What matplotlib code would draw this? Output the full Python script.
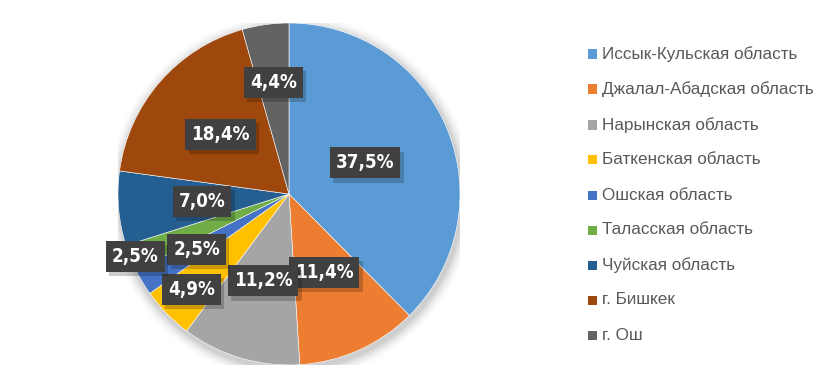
import matplotlib.pyplot as plt
import numpy as np

regions = ['Иссык-Кульская область', 'Джалал-Абадская область', 'Нарынская область',
           'Баткенская область', 'Ошская область', 'Таласская область',
           'Чуйская область', 'г. Бишкек', 'г. Ош']
shares = [37.5, 11.4, 11.2, 4.9, 2.5, 2.5, 7.0, 18.4, 4.4]
labels = ['37,5%', '11,4%', '11,2%', '4,9%', '2,5%', '2,5%', '7,0%', '18,4%', '4,4%']
colors = ['#5B9BD5', '#ED7D31', '#A5A5A5', '#FFC000', '#4472C4',
          '#70AD47', '#255E91', '#9E480E', '#636363']
# how far from the centre each label box sits (fraction of radius)
label_dist = [0.48, 0.50, 0.53, 0.80, 0.63, 0.97, 0.51, 0.53, 0.66]

fig = plt.figure(figsize=(8.33, 3.9), dpi=100)
W, H = 833, 390
cx, cy, r = 289, 196, 171
ax = fig.add_axes([(cx - r) / W, (cy - r) / H, 2 * r / W, 2 * r / H])

# soft shadow around the pie
for i, a in enumerate(np.linspace(0.05, 0.01, 6)):
    ax.add_patch(plt.Circle((0.01, -0.02), 1 + 0.012 * (i + 1), color='k', alpha=a, lw=0, zorder=0))

wedges, _ = ax.pie(shares, colors=colors, startangle=90, counterclock=False,
                   wedgeprops=dict(edgecolor='white', linewidth=0.4))

total = sum(shares)
cum = 0
z = 4
for val, lab, d in zip(shares, labels, label_dist):
    mid = 90 - (cum + val / 2) / total * 360
    cum += val
    x, y = d * np.cos(np.radians(mid)), d * np.sin(np.radians(mid))
    # shadow of the box
    ax.text(x + 0.02, y - 0.025, lab, ha='center', va='center', color='#404040',
            alpha=0.0, fontsize=13.5, fontweight='bold', family='DejaVu Sans',
            fontstretch='condensed', zorder=z,
            bbox=dict(boxstyle='square,pad=0.32', fc='#000000', ec='none', alpha=0.2))
    ax.text(x, y, lab, ha='center', va='center', color='white', fontsize=13.5,
            fontweight='bold', family='DejaVu Sans', fontstretch='condensed', zorder=z + 0.5,
            bbox=dict(boxstyle='square,pad=0.32', fc='#404040', ec='none'))
    z += 1

ax.set_xlim(-1, 1)
ax.set_ylim(-1, 1)
ax.set_aspect('equal')
ax.axis('off')

# legend
leg_y = [54, 89, 125, 160, 195, 230, 265, 300, 335]
for name, col, yy in zip(regions, colors, leg_y):
    fig.patches.append(plt.Rectangle((588 / W, (H - yy - 4.5) / H), 9 / W, 9 / H,
                                     transform=fig.transFigure, fc=col, ec='none'))
    fig.text(602 / W, (H - yy) / H, name, ha='left', va='center', color='#595959',
             fontsize=12.3, family='Liberation Sans')

plt.savefig('out.png', dpi=100)
